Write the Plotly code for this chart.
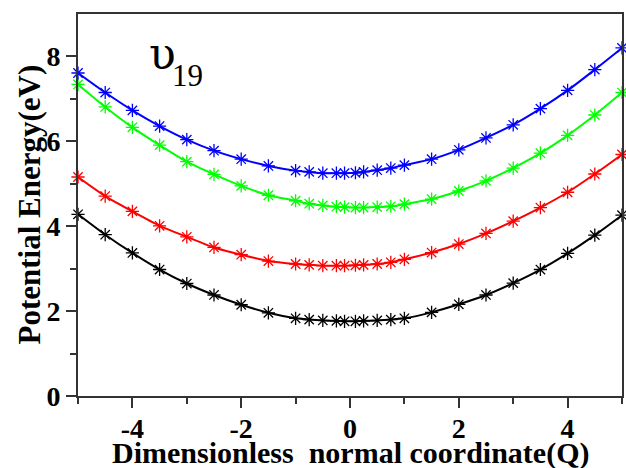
import plotly.graph_objects as go

q = [-5, -4.5, -4, -3.5, -3, -2.5, -2, -1.5, -1, -0.75, -0.5, -0.25, -0.1,
     0.1, 0.25, 0.5, 0.75, 1, 1.5, 2, 2.5, 3, 3.5, 4, 4.5, 5]

black = [4.28, 3.80, 3.37, 2.98, 2.65, 2.38, 2.15, 1.96, 1.83, 1.80, 1.78, 1.77, 1.76,
         1.76, 1.77, 1.78, 1.80, 1.83, 1.97, 2.16, 2.38, 2.66, 2.98, 3.36, 3.79, 4.26]
red = [5.16, 4.71, 4.35, 4.01, 3.75, 3.50, 3.33, 3.18, 3.11, 3.09, 3.07, 3.07, 3.07,
       3.08, 3.09, 3.11, 3.15, 3.22, 3.38, 3.58, 3.83, 4.12, 4.44, 4.80, 5.23, 5.69]
green = [7.34, 6.81, 6.33, 5.91, 5.52, 5.22, 4.95, 4.73, 4.60, 4.53, 4.49, 4.46, 4.45,
         4.44, 4.44, 4.45, 4.47, 4.52, 4.64, 4.83, 5.07, 5.37, 5.72, 6.14, 6.62, 7.15]
blue = [7.61, 7.15, 6.73, 6.36, 6.04, 5.78, 5.58, 5.42, 5.31, 5.28, 5.25, 5.25, 5.25,
        5.26, 5.28, 5.32, 5.37, 5.44, 5.58, 5.80, 6.08, 6.39, 6.77, 7.20, 7.69, 8.20]

series = [("black", black, "#000000"), ("red", red, "#ff0000"),
          ("green", green, "#00ff00"), ("blue", blue, "#0000ff")]

FONT = "Liberation Serif"

fig = go.Figure()
for name, ys, col in series:
    fig.add_trace(go.Scatter(
        x=q, y=ys, mode="lines+markers", name=name,
        line=dict(color=col, width=2, shape="spline", smoothing=0.6),
        marker=dict(symbol="asterisk-open", size=11, color=col,
                    line=dict(color=col, width=1.3)),
        showlegend=False, cliponaxis=False))

axis_common = dict(
    showgrid=False, zeroline=False, showline=True, linecolor="#333333",
    linewidth=2, mirror=True, ticks="outside", ticklen=10, tickwidth=1.5,
    tickcolor="#333333",
    tickfont=dict(family=FONT, size=28, color="black", weight="bold"),
)

fig.update_xaxes(range=[-5, 5], tickvals=[-4, -2, 0, 2, 4],
                 ticktext=["-4", "-2", "0", "2", "4"],
                 ticklabelstandoff=-4,
                 minor=dict(tickvals=[-5, -3, -1, 1, 3, 5], ticklen=6,
                            tickwidth=1.5, tickcolor="#333333", ticks="outside"),
                 **axis_common)
fig.update_yaxes(range=[0, 9], tickvals=[0, 2, 4, 6, 8],
                 ticktext=["0", "2", "4", "6", "8"],
                 minor=dict(tickvals=[1, 3, 5, 7], ticklen=6,
                            tickwidth=1.5, tickcolor="#333333", ticks="outside"),
                 **axis_common)

fig.add_annotation(text="Dimensionless  normal coordinate(Q)", xref="paper", yref="paper",
                   x=0.5, y=0, yshift=-38, xanchor="center", yanchor="top",
                   showarrow=False,
                   font=dict(family=FONT, size=30, color="black", weight="bold"))
fig.add_annotation(text="Potential Energy(eV)", xref="paper", yref="paper",
                   x=0, y=0.5, xshift=-30, xanchor="right", yanchor="middle",
                   textangle=-90, showarrow=False,
                   font=dict(family=FONT, size=31, color="black", weight="bold"))

fig.add_annotation(text="υ", xref="x", yref="y", x=-3.74, y=7.41,
                   xanchor="left", yanchor="bottom", showarrow=False,
                   font=dict(family="DejaVu Serif", size=44, color="black"))
fig.add_annotation(text="19", xref="x", yref="y", x=-3.31, y=7.1,
                   xanchor="left", yanchor="bottom", showarrow=False,
                   font=dict(family=FONT, size=31, color="black"))

fig.update_layout(
    width=626, height=468,
    margin=dict(l=78, r=2, t=14, b=72),
    paper_bgcolor="white", plot_bgcolor="white",
)

fig.write_html("out.html", config={"displayModeBar": False},
               post_script="document.body.style.margin='0';document.body.style.padding='0';")
